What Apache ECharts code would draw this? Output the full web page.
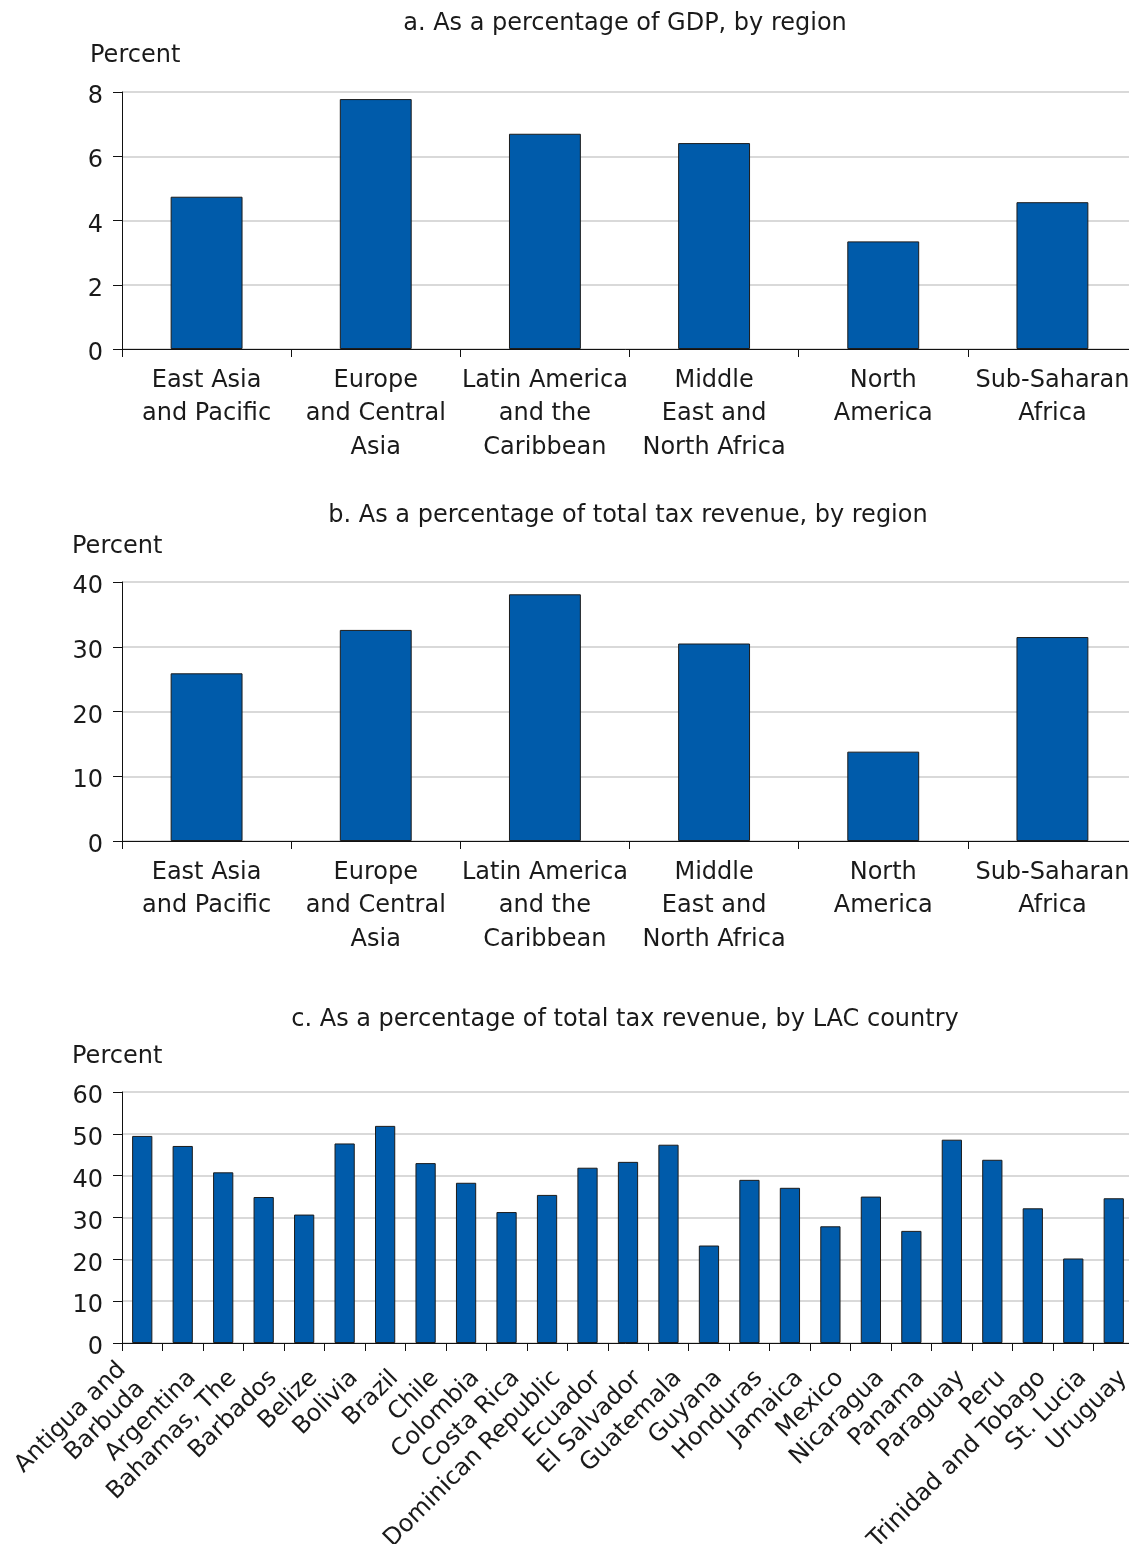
<!DOCTYPE html>
<html>
<head>
<meta charset="utf-8">
<script src="https://cdn.jsdelivr.net/npm/echarts@6/dist/echarts.min.js"></script>
<style>
  html, body { margin: 0; padding: 0; background: #fff; }
  #chart { width: 1129px; height: 1544px; }
</style>
</head>
<body>
<div id="chart"></div>
<script>
// Panel titles
const panelTitles = [
  'a. As a percentage of GDP, by region',
  'b. As a percentage of total tax revenue, by region',
  'c. As a percentage of total tax revenue, by LAC country'
];
const unitLabel = 'Percent';

// Regions (panels a and b)
const regions = [
  'East Asia\nand Pacific',
  'Europe\nand Central\nAsia',
  'Latin America\nand the\nCaribbean',
  'Middle\nEast and\nNorth Africa',
  'North\nAmerica',
  'Sub-Saharan\nAfrica'
];
const shareOfGdp = [4.74, 7.78, 6.70, 6.41, 3.35, 4.57];
const shareOfTaxByRegion = [25.9, 32.6, 38.1, 30.5, 13.8, 31.5];

// Latin America and the Caribbean countries (panel c)
const countries = [
  'Antigua and\nBarbuda', 'Argentina', 'Bahamas, The', 'Barbados', 'Belize',
  'Bolivia', 'Brazil', 'Chile', 'Colombia', 'Costa Rica',
  'Dominican Republic', 'Ecuador', 'El Salvador', 'Guatemala', 'Guyana',
  'Honduras', 'Jamaica', 'Mexico', 'Nicaragua', 'Panama',
  'Paraguay', 'Peru', 'Trinidad and Tobago', 'St. Lucia', 'Uruguay'
];
const shareOfTaxByCountry = [
  49.5, 47.1, 40.8, 34.9, 30.7,
  47.7, 51.9, 43.0, 38.3, 31.3,
  35.4, 41.9, 43.3, 47.4, 23.3,
  39.0, 37.1, 27.9, 35.0, 26.8,
  48.6, 43.8, 32.2, 20.2, 34.6
];

// Axis scales
const yScaleA = { min: 0, max: 8, interval: 2 };
const yScaleB = { min: 0, max: 40, interval: 10 };
const yScaleC = { min: 0, max: 60, interval: 10 };

const FONT = 'DejaVu Sans';
const TEXT = '#1a1a1a';
const BAR = '#005BAA';

const grids = [
  { left: 122, top: 92, width: 1015, height: 257, outerBoundsMode: 'none' },
  { left: 122, top: 582, width: 1015, height: 259, outerBoundsMode: 'none' },
  { left: 122, top: 1092, width: 1012, height: 251, outerBoundsMode: 'none' }
];

// Two-line country names hang centred on their tick; single lines hang from the top
const countryAxisData = countries.map(function (name) {
  return name.indexOf('\n') >= 0
    ? { value: name, textStyle: { verticalAlign: 'middle', padding: [8, 15, 0, 0] } }
    : name;
});

function xAxisFor(gridIndex, data, rotated) {
  return {
    type: 'category',
    gridIndex: gridIndex,
    data: data,
    boundaryGap: true,
    axisLine: { lineStyle: { color: '#111', width: 1 } },
    axisTick: { show: true, alignWithLabel: false, length: 8, lineStyle: { color: '#111' } },
    axisLabel: rotated ? {
      interval: 0, rotate: 45, margin: 22, verticalAlign: 'top',
      fontFamily: FONT, fontSize: 24, color: TEXT, lineHeight: 27
    } : {
      interval: 0, margin: 15,
      fontFamily: FONT, fontSize: 24, color: TEXT, lineHeight: 33.5
    }
  };
}

function yAxisFor(gridIndex, scale) {
  return {
    type: 'value',
    gridIndex: gridIndex,
    min: scale.min, max: scale.max, interval: scale.interval,
    axisLine: { show: true, lineStyle: { color: '#111', width: 1 } },
    axisTick: { show: true, length: 9, lineStyle: { color: '#111' } },
    axisLabel: {
      margin: 19,
      formatter: '{v|{value}}',
      rich: { v: { fontFamily: FONT, fontSize: 24, color: TEXT, padding: [10, 0, 0, 0] } }
    },
    splitLine: { show: true, lineStyle: { color: '#cccccc', width: 1.5 } }
  };
}

function barSeries(index, data, width) {
  return {
    type: 'bar',
    xAxisIndex: index,
    yAxisIndex: index,
    data: data,
    barWidth: width,
    itemStyle: { color: BAR, borderColor: '#1c1c1c', borderWidth: 1 },
    silent: true
  };
}

function textEl(text, x, y, align) {
  return {
    type: 'text',
    x: x, y: y,
    style: {
      text: text,
      font: '24px "' + FONT + '"',
      fill: TEXT,
      textAlign: align,
      textVerticalAlign: 'middle'
    }
  };
}

const chart = echarts.init(document.getElementById('chart'), null, { renderer: 'canvas' });
chart.setOption({
  animation: false,
  backgroundColor: '#ffffff',
  grid: grids,
  xAxis: [
    xAxisFor(0, regions, false),
    xAxisFor(1, regions, false),
    xAxisFor(2, countryAxisData, true)
  ],
  yAxis: [
    yAxisFor(0, yScaleA),
    yAxisFor(1, yScaleB),
    yAxisFor(2, yScaleC)
  ],
  series: [
    barSeries(0, shareOfGdp, '42.5%'),
    barSeries(1, shareOfTaxByRegion, '42.5%'),
    barSeries(2, shareOfTaxByCountry, '50%')
  ],
  graphic: [
    textEl(panelTitles[0], 625, 24, 'center'),
    textEl(unitLabel, 90, 56, 'left'),
    textEl(panelTitles[1], 628, 516, 'center'),
    textEl(unitLabel, 72, 547, 'left'),
    textEl(panelTitles[2], 625, 1020, 'center'),
    textEl(unitLabel, 72, 1057, 'left')
  ]
});
</script>
</body>
</html>
